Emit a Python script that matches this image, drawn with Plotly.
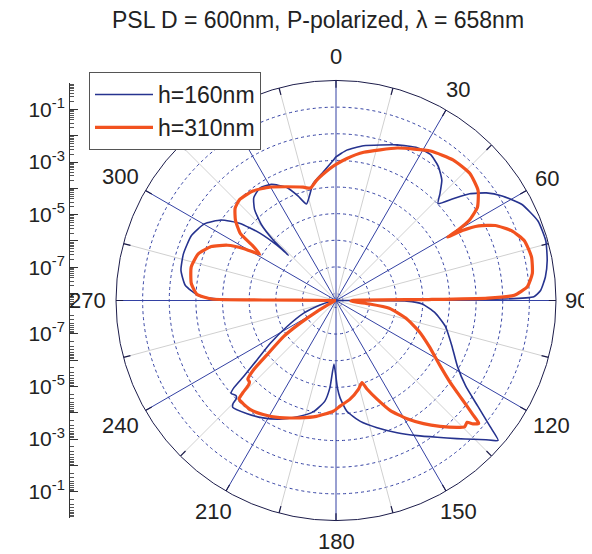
import math
import plotly.graph_objects as go

# ---------------- data ----------------
title_text = "PSL D = 600nm, P-polarized, λ = 658nm"
series_names = ["h=160nm", "h=310nm"]

# angle in degrees (0 at top, clockwise) and log10 of scattered intensity
h160_theta = [0, 4.1, 10.1, 21.5, 28, 32.9, 37.4, 41.3, 44.2, 46.5, 49, 51.4, 54.4, 57.8,
              62.6, 68.5, 74.1, 79.3, 83.6, 87.2, 88.9, 89.5, 90, 90.5, 92.3, 97.2, 103.3,
              111.5, 118.4, 123.4, 126.7, 129.3, 130.8, 132.9, 135.3, 138.8, 143.5, 149,
              155.2, 162.1, 168.6, 174.4, 177.6, 179.1, 181.8, 184, 186.3, 191.6, 198.8,
              205.4, 211.9, 218.4, 224, 225, 225.5, 226.5, 228.5, 229.5, 230.6, 233.1, 237,
              242, 248.6, 254, 262, 269.5, 270, 270.7, 272, 275.8, 281, 287, 294.2, 300.2,
              305, 308.8, 311.5, 313.1, 313.6, 314, 315.5, 318.2, 321.3, 325.9, 330.9,
              336.3, 340, 343, 348.9, 354.3, 358.9, 360]
h160_log = [-2.87, -2.60, -2.36, -1.98, -1.76, -1.73, -1.93, -2.24, -2.66, -2.98, -2.44,
            -1.84, -1.32, -0.89, -0.41, -0.11, -0.07, -0.19, -0.35, -0.57, -0.83, -2.0,
            -8.2, -5.6, -5.02, -4.50, -4.04, -3.58, -3.08, -2.43, -1.62, -0.78, -0.22,
            -0.58, -0.93, -1.37, -1.87, -2.34, -2.79, -3.24, -3.63, -4.08, -4.60, -4.99,
            -5.87, -4.98, -4.46, -3.99, -3.64, -3.33, -3.07, -2.85, -2.68, -2.80, -3.02,
            -3.08, -3.00, -3.22, -3.77, -4.56, -5.33, -6.18, -6.96, -7.64, -8.1, -8.2,
            -8.2, -3.84, -3.10, -2.57, -2.33, -2.27, -2.31, -2.54, -2.99, -3.64, -4.44,
            -5.22, -5.79, -4.96, -4.26, -3.67, -3.32, -3.16, -3.27, -3.62, -4.08, -4.47,
            -3.79, -3.41, -2.99, -2.87]

h310_theta = [0, 4.4, 10.6, 21.9, 32.3, 39.9, 46.5, 52.2, 56.6, 59, 60, 60.4, 61, 62.4,
              64.8, 68.3, 72.4, 77.5, 82.2, 85.9, 88.3, 89.1, 89.4, 90, 93, 95.9, 98.2,
              104.1, 110.4, 116.2, 121.8, 125.5, 128, 129.8, 130.7, 132, 132.9, 134.5,
              136.4, 140.4, 144.6, 149, 153.7, 157.4, 160.7, 162.4, 165.7, 171.9, 177.8,
              181.4, 189.6, 197.2, 205.7, 212.6, 218.3, 224.5, 225.3, 226.0, 226.8, 228.2,
              230, 231.8, 235.5, 237.7, 240, 243, 255, 269.5, 270, 270.4, 270.7, 272.6,
              276.7, 283, 288.7, 293.4, 297, 299.4, 301.2, 303.4, 305, 308.6, 312.4,
              316.3, 322.8, 329.7, 336.4, 343.8, 347.2, 350.8, 357.4, 360]
h310_log = [-3.15, -2.91, -2.60, -2.09, -1.62, -1.39, -1.33, -1.51, -1.90, -2.43, -3.00,
            -3.44, -2.84, -2.21, -1.65, -1.17, -0.84, -0.74, -0.82, -1.06, -1.56, -2.56,
            -4.78, -7.65, -7.70, -6.99, -6.24, -5.56, -4.93, -4.36, -3.69, -3.02, -2.27,
            -1.58, -1.19, -1.34, -1.54, -1.49, -1.68, -2.13, -2.59, -3.08, -3.65, -4.25,
            -4.74, -5.03, -4.83, -4.52, -4.29, -4.10, -3.85, -3.65, -3.38, -3.18, -3.05,
            -3.07, -3.35, -3.70, -3.80, -3.82, -4.23, -4.96, -5.88, -6.67, -7.43, -8.0,
            -8.2, -8.2, -8.2, -5.5, -3.59, -3.03, -2.79, -2.68, -2.80, -3.16, -3.69,
            -4.30, -4.91, -4.50, -3.88, -3.43, -3.13, -3.02, -3.10, -3.33, -3.60, -3.83,
            -3.93, -3.69, -3.30, -3.15]

angle_grid_vals = list(range(0, 360, 30))
angle_minor_vals = list(range(15, 360, 30))
# labels visible in the reference (the 330 label sits under the legend box)
angle_label_vals = [0, 30, 60, 90, 120, 150, 180, 210, 240, 270, 300]
angle_labels = [str(a) for a in angle_label_vals]
radial_decades = [-8, -7, -6, -5, -4, -3, -2, -1]
radial_min_log = -8.26
radial_max_log = 0.0
side_label_decades = [-1, -3, -5, -7]
side_all_decades = list(range(-8, 1))

# ---------------- styles ----------------
FONT = "Liberation Sans, Arial, sans-serif"
BLUE = "#26338f"
GRID_BLUE = "#3341a3"
ORANGE = "#f2521f"
DARK = "#1c1c4a"
TXT = "#222222"

W, H = 584, 546
cx, cy, R = 328, 292.5, 220
ax_x, ax_half = 61, 217.5
span = radial_max_log - radial_min_log

fig = go.Figure()


def spokes(angles, r0, r1):
    t, r = [], []
    for a in angles:
        t += [a, a, None]
        r += [10 ** r0, 10 ** r1, None]
    return t, r


t15, r15 = spokes(angle_minor_vals, radial_min_log, radial_max_log)
t30, r30 = spokes(angle_grid_vals, radial_min_log, radial_max_log)
tk, rk = spokes(angle_grid_vals + angle_minor_vals, radial_max_log - 0.27, radial_max_log)
fig.add_trace(go.Scatterpolar(theta=t15, r=r15, mode="lines", line=dict(color="#d0d0d0", width=1),
                              showlegend=False, hoverinfo="skip"))
fig.add_trace(go.Scatterpolar(theta=t30, r=r30, mode="lines", line=dict(color=GRID_BLUE, width=1),
                              showlegend=False, hoverinfo="skip"))
fig.add_trace(go.Scatterpolar(theta=tk, r=rk, mode="lines", line=dict(color=DARK, width=1.2),
                              showlegend=False, hoverinfo="skip"))

fig.add_trace(go.Scatterpolar(theta=h160_theta, r=[10 ** v for v in h160_log], mode="lines",
                              line=dict(color=BLUE, width=1.6, shape="spline", smoothing=0.5),
                              name=series_names[0]))
fig.add_trace(go.Scatterpolar(theta=h310_theta, r=[10 ** v for v in h310_log], mode="lines",
                              line=dict(color=ORANGE, width=3.2, shape="spline", smoothing=0.5),
                              name=series_names[1]))

# angle labels just outside the rim (MATLAB style), as paper annotations
annotations = []
for a, s in zip(angle_label_vals, angle_labels):
    sa, ca = math.sin(math.radians(a)), math.cos(math.radians(a))
    px = 244
    if len(s) == 3 and abs(sa) > 0.6:
        px += 5
    if a in (90, 180):
        px = 241
    x = cx + px * sa
    y = cy - px * ca
    annotations.append(dict(x=x / W, y=1 - y / H, xref="paper", yref="paper", text=s,
                            showarrow=False, xanchor="center", yanchor="middle",
                            font=dict(size=22, family=FONT, color=TXT)))

# side mirrored log axis (distance from centre, in decades)
lab_vals, lab_text = [], []
for d in side_label_decades:
    u = d - radial_min_log
    lab_vals += [u, -u]
    lab_text += ["10<sup>%d</sup>" % d] * 2
major_vals = []
for d in side_all_decades:
    u = d - radial_min_log
    major_vals += [u, -u]
minor_vals = []
for d in range(-9, 0):
    for k in range(2, 10):
        lv = d + math.log10(k)
        if radial_min_log < lv < radial_max_log:
            u = lv - radial_min_log
            minor_vals += [u, -u]

fig.add_trace(go.Scatter(x=[0, 0], y=[-span, span], mode="lines", line=dict(width=0),
                         showlegend=False, hoverinfo="skip", xaxis="x", yaxis="y"))
fig.add_trace(go.Scatter(x=[0, 0], y=[-span, span], mode="lines", line=dict(width=0),
                         showlegend=False, hoverinfo="skip", xaxis="x", yaxis="y2"))

fig.update_layout(
    width=W, height=H,
    margin=dict(l=0, r=0, t=0, b=0),
    paper_bgcolor="white", plot_bgcolor="rgba(0,0,0,0)",
    font=dict(family=FONT, color=TXT),
    annotations=annotations,
    title=dict(text=title_text, x=310 / W, y=1 - 12 / H, xanchor="center", yanchor="middle",
               font=dict(size=23, family=FONT, color=TXT)),
    showlegend=True,
    legend=dict(x=81 / W, y=1 - 64 / H, xanchor="left", yanchor="top",
                bgcolor="white", bordercolor="#555555", borderwidth=1, itemwidth=58,
                font=dict(size=23, family=FONT, color=TXT), tracegroupgap=0),
    xaxis=dict(domain=[ax_x / W, (ax_x + 6) / W], range=[0, 1], visible=False),
    yaxis=dict(domain=[1 - (cy + ax_half) / H, 1 - (cy - ax_half) / H], anchor="free",
               position=ax_x / W, range=[-span, span], side="left",
               showline=True, linecolor="#333333", linewidth=1,
               ticks="inside", ticklen=4, tickcolor="#555555",
               tickmode="array", tickvals=lab_vals, ticktext=lab_text,
               tickfont=dict(size=21, family=FONT, color=TXT),
               minor=dict(tickmode="array", tickvals=minor_vals, ticks="inside", ticklen=4,
                          tickcolor="#555555", showgrid=False),
               showgrid=False, zeroline=False),
    yaxis2=dict(domain=[1 - (cy + ax_half) / H, 1 - (cy - ax_half) / H], anchor="free",
                overlaying="y", position=ax_x / W, range=[-span, span], side="left",
                showline=False, ticks="inside", ticklen=8, tickcolor="#333333",
                tickmode="array", tickvals=major_vals, showticklabels=False,
                showgrid=False, zeroline=False),
    polar=dict(
        domain=dict(x=[(cx - R) / W, (cx + R) / W], y=[1 - (cy + R) / H, 1 - (cy - R) / H]),
        bgcolor="white",
        angularaxis=dict(rotation=90, direction="clockwise", tickmode="array",
                         tickvals=angle_grid_vals, showticklabels=False,
                         ticks="", showgrid=False, showline=True, linecolor=DARK, linewidth=1),
        radialaxis=dict(type="log", range=[radial_min_log, radial_max_log],
                        tickmode="array", tickvals=[10 ** d for d in radial_decades],
                        showticklabels=False, ticks="", showline=False,
                        showgrid=True, gridcolor=GRID_BLUE, griddash="dot", gridwidth=1),
    ),
)

fig.write_html("out.html")
